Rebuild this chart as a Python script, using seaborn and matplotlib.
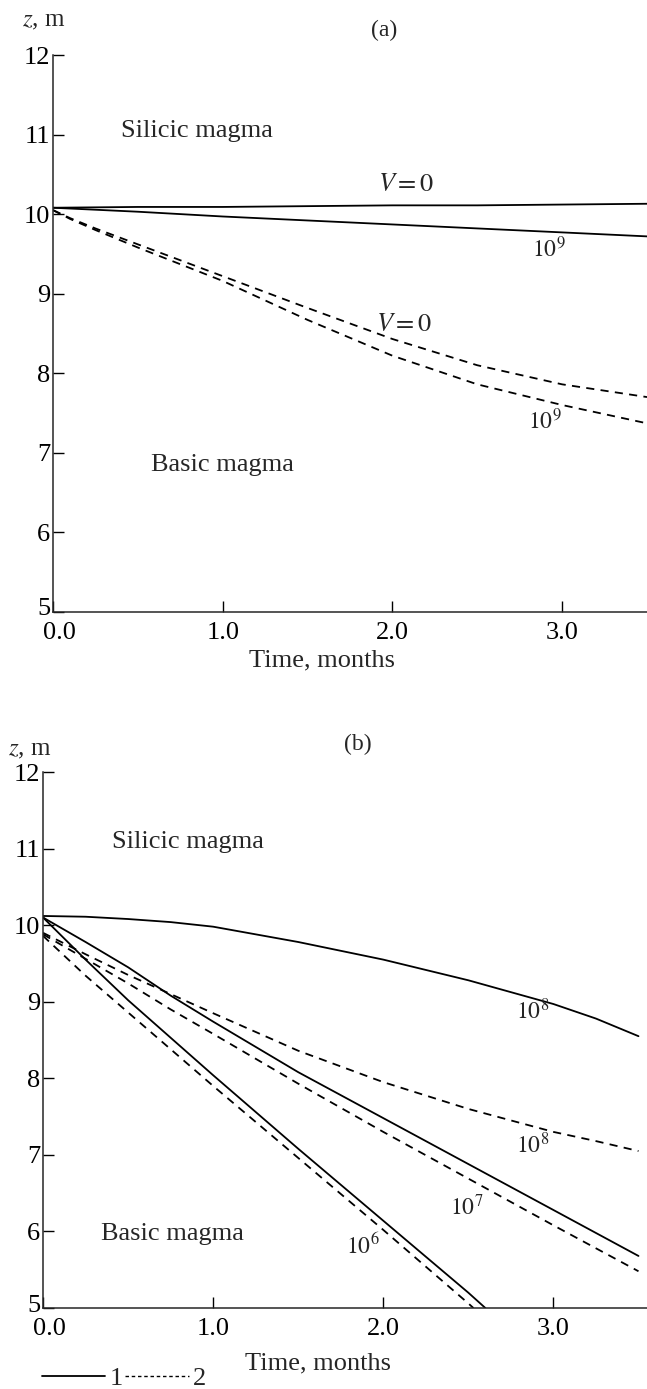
import numpy as np
import pandas as pd
import matplotlib
matplotlib.use("Agg")
import matplotlib.pyplot as plt
import matplotlib.transforms as mtransforms
from matplotlib.lines import Line2D
import seaborn as sns

# ---------------- data ----------------
# panel (a)
a_t_solid = [0.0, 0.5, 1.0, 1.5, 2.0, 2.5, 3.0, 3.5]
a_v0_solid = [10.08, 10.09, 10.09, 10.10, 10.11, 10.11, 10.12, 10.13]
a_v9_solid = [10.08, 10.03, 9.97, 9.92, 9.87, 9.82, 9.77, 9.72]

a_t_dash = [0.0, 0.1, 0.25, 0.5, 0.75, 1.0, 1.5, 2.0, 2.5, 3.0, 3.5]
a_v0_dash = [10.05, 9.95, 9.82, 9.62, 9.42, 9.22, 8.82, 8.43, 8.10, 7.86, 7.70]
a_v9_dash = [10.05, 9.94, 9.80, 9.58, 9.37, 9.16, 8.67, 8.22, 7.86, 7.60, 7.37]

# panel (b)
b_t = [0.0, 0.25, 0.5, 0.75, 1.0, 1.5, 2.0, 2.5, 3.0, 3.25, 3.5]
b_s8 = [10.12, 10.11, 10.08, 10.04, 9.98, 9.78, 9.55, 9.28, 8.97, 8.78, 8.55]
b_d8 = [9.90, 9.62, 9.35, 9.10, 8.85, 8.36, 7.95, 7.60, 7.30, 7.18, 7.05]
b_s7 = [10.10, 9.78, 9.45, 9.08, 8.74, 8.08, 7.48, 6.88, 6.28, 5.98, 5.68]
b_d7 = [9.88, 9.56, 9.24, 8.90, 8.58, 7.93, 7.30, 6.69, 6.08, 5.78, 5.48]

b_t6s = [0.0, 0.25, 0.5, 1.0, 1.5, 2.0, 2.5, 2.6]
b_s6 = [10.10, 9.55, 9.02, 8.04, 7.08, 6.14, 5.20, 5.00]
b_t6d = [0.0, 0.25, 0.5, 1.0, 1.5, 2.0, 2.5, 2.53]
b_d6 = [9.86, 9.34, 8.86, 7.90, 6.96, 6.02, 5.06, 5.00]

x_ticks = [0.0, 1.0, 2.0, 3.0]
x_ticklabels = ["0.0", "1.0", "2.0", "3.0"]
y_ticks = [5, 6, 7, 8, 9, 10, 11, 12]

# ---------------- style ----------------
sns.set_style("ticks")
plt.rcParams["font.family"] = ["Liberation Serif", "DejaVu Serif"]
plt.rcParams["mathtext.fontset"] = "stix"
plt.rcParams["axes.linewidth"] = 1.1

FS = 19      # main text size
FSE = 17     # exponent labels
solid = "-"
dash = (0, (4.5, 3.5))
LW = 1.3

fig = plt.figure(figsize=(6.47, 13.89), dpi=100)
ax_a = fig.add_axes([0.0819, 0.5595, 1.0 - 0.0819, 0.4009])
ax_b = fig.add_axes([0.0665, 0.0583, 1.0 - 0.0665, 0.3859])


def draw(ax, t, z, ls):
    df = pd.DataFrame({"t": t, "z": z})
    sns.lineplot(data=df, x="t", y="z", ax=ax, color="black", linestyle=ls,
                 linewidth=LW, sort=False, estimator=None)


def style_axis(ax, xmax):
    ax.set_xlim(0, xmax)
    ax.set_ylim(5, 12)
    ax.set_xticks(x_ticks)
    ax.set_xticklabels(x_ticklabels)
    ax.set_yticks(y_ticks)
    ax.set_xlabel("")
    ax.set_ylabel("")
    for s in ["top", "right"]:
        ax.spines[s].set_visible(False)
    ax.tick_params(direction="in", length=8, width=1.0, labelsize=FS,
                   colors="black")
    ax.tick_params(axis="x", pad=7)
    ax.tick_params(axis="y", pad=2)
    ax.set_facecolor("white")
    # corner labels: "0.0" a little right, "5" a little up, as in the original
    first_x = ax.get_xticklabels()[0]
    first_x.set_transform(first_x.get_transform() +
                          mtransforms.ScaledTranslation(6 / 100, 0, fig.dpi_scale_trans))
    first_y = ax.get_yticklabels()[0]
    first_y.set_transform(first_y.get_transform() +
                          mtransforms.ScaledTranslation(0, 5 / 100, fig.dpi_scale_trans))


# panel (a)
draw(ax_a, a_t_solid, a_v0_solid, solid)
draw(ax_a, a_t_solid, a_v9_solid, solid)
draw(ax_a, a_t_dash, a_v0_dash, dash)
draw(ax_a, a_t_dash, a_v9_dash, dash)
style_axis(ax_a, 3.5)
ax_a.text(1.95, 12.18, "(a)", fontsize=FSE, ha="center", va="bottom")
ax_a.text(0.85, 11.04, "Silicic magma", fontsize=FS, ha="center", va="center")
ax_a.text(1.0, 6.84, "Basic magma", fontsize=FS, ha="center", va="center")
ax_a.text(2.08, 10.36, r"$V = 0$", fontsize=FS, ha="center", va="center")
ax_a.text(2.92, 9.56, r"$10^9$", fontsize=FSE, ha="center", va="center")
ax_a.text(2.07, 8.61, r"$V = 0$", fontsize=FS, ha="center", va="center")
ax_a.text(2.90, 7.40, r"$10^9$", fontsize=FSE, ha="center", va="center")
fig.text(44 / 647, 1 - 21 / 1389, r"$z$, m", fontsize=18, ha="center", va="center")
fig.text(322 / 647, 1 - 660 / 1389, "Time, months", fontsize=FS, ha="center", va="center")

# panel (b)
draw(ax_b, b_t, b_s8, solid)
draw(ax_b, b_t, b_d8, dash)
draw(ax_b, b_t, b_s7, solid)
draw(ax_b, b_t, b_d7, dash)
draw(ax_b, b_t6s, b_s6, solid)
draw(ax_b, b_t6d, b_d6, dash)
style_axis(ax_b, 3.55)
ax_b.text(1.85, 12.22, "(b)", fontsize=FSE, ha="center", va="bottom")
ax_b.text(0.85, 11.09, "Silicic magma", fontsize=FS, ha="center", va="center")
ax_b.text(0.76, 5.97, "Basic magma", fontsize=FS, ha="center", va="center")
ax_b.text(2.88, 8.87, r"$10^8$", fontsize=FSE, ha="center", va="center")
ax_b.text(2.88, 7.12, r"$10^8$", fontsize=FSE, ha="center", va="center")
ax_b.text(2.49, 6.32, r"$10^7$", fontsize=FSE, ha="center", va="center")
ax_b.text(1.88, 5.81, r"$10^6$", fontsize=FSE, ha="center", va="center")
fig.text(30 / 647, 1 - 750 / 1389, r"$z$, m", fontsize=18, ha="center", va="center")
fig.text(318 / 647, 1 - 1363 / 1389, "Time, months", fontsize=FS, ha="center", va="center")

handles = [Line2D([], [], color="black", linestyle=solid, linewidth=LW),
           Line2D([], [], color="black", linestyle=(0, (2.5, 2)), linewidth=1.0)]
fig.legend(handles, ["1", "2"], loc="center left",
           bbox_to_anchor=(42 / 647, 1 - 1378 / 1389), ncol=2, frameon=False,
           fontsize=FS, handlelength=2.4, handletextpad=0.15,
           columnspacing=0.1, borderpad=0, borderaxespad=0)

fig.savefig("out.png", dpi=100, facecolor="white")
